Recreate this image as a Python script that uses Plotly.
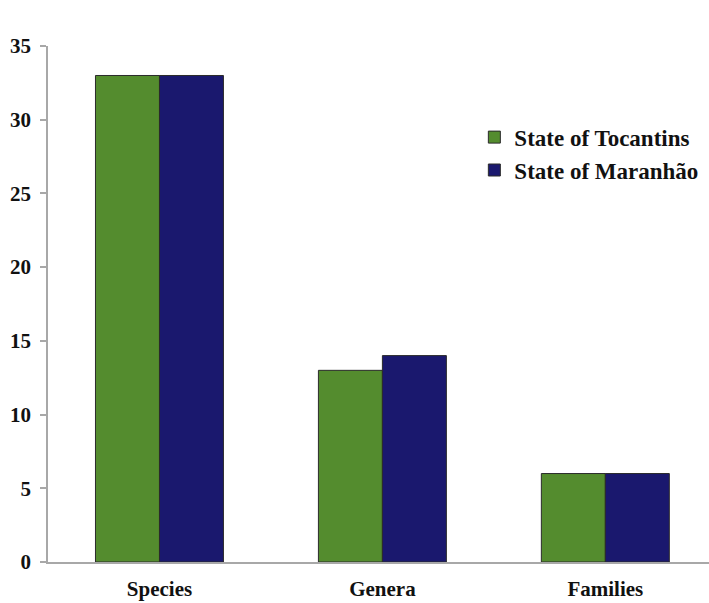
import plotly.graph_objects as go

categories = ["Species", "Genera", "Families"]
tocantins = [33, 13, 6]
maranhao = [33, 14, 6]
series_names = ["State of Tocantins", "State of Maranhão"]
colors = ["#548C2E", "#1A186E"]
y_ticks = [0, 5, 10, 15, 20, 25, 30, 35]

FONT = "Liberation Serif"

fig = go.Figure()
for name, vals, col in zip(series_names, [tocantins, maranhao], colors):
    fig.add_trace(go.Bar(
        x=categories, y=vals, name=name, legendgroup=name,
        marker=dict(color=col, line=dict(color="#2b2b2b", width=1)),
    ))

fig.update_layout(
    width=709, height=603,
    margin=dict(l=48, r=0, t=46, b=41),
    paper_bgcolor="white", plot_bgcolor="white",
    barmode="group", bargap=0.426, bargroupgap=0,
    font=dict(family=FONT, size=21, color="#111111"),
    showlegend=True,
    legend=dict(
        x=0.645, y=0.865, xanchor="left", yanchor="top",
        font=dict(family=FONT, size=23, color="#111111", weight="bold"),
        bgcolor="rgba(0,0,0,0)", tracegroupgap=0, traceorder="grouped",
    ),
    xaxis=dict(
        range=[-0.5, 2.465], showline=True, linecolor="#a8a8a8", linewidth=1.5,
        ticks="", showgrid=False, zeroline=False, automargin=False,
        tickfont=dict(family=FONT, size=21, color="#111111", weight="bold"),
        ticklabelstandoff=7,
    ),
    yaxis=dict(
        range=[0, 35], tickvals=y_ticks, showline=True, linecolor="#a8a8a8", linewidth=1.5,
        ticks="outside", ticklen=6, tickcolor="#a8a8a8", tickwidth=1.5,
        showgrid=False, zeroline=False, automargin=False,
        tickfont=dict(family=FONT, size=21, color="#111111", weight="bold"),
        ticklabelstandoff=5,
    ),
)

fig.write_html("out.html")
